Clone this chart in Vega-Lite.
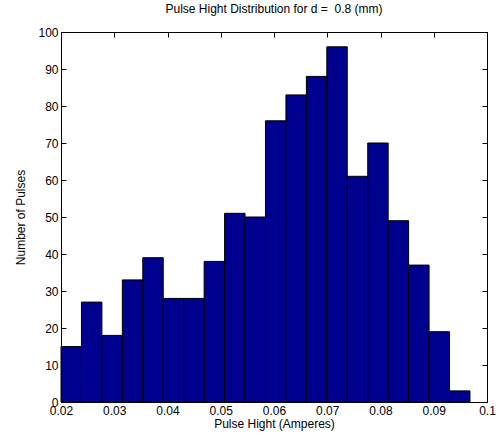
{
  "$schema": "https://vega.github.io/schema/vega-lite/v6.json",
  "width": 426,
  "height": 370,
  "autosize": {"type": "none"},
  "padding": {"left": 61, "top": 32, "right": 11, "bottom": 42},
  "background": "white",
  "title": {"text": "Pulse Hight Distribution for d = \u00a00.8 (mm)", "font": "Liberation Sans", "fontSize": 12, "fontWeight": "normal", "color": "black", "offset": 10},
  "config": {
    "view": {"stroke": "black", "strokeWidth": 1},
    "axis": {"labelFont": "Liberation Sans", "labelFontSize": 12, "labelColor": "black", "titleFont": "Liberation Sans", "titleFontSize": 12, "titleFontWeight": "normal", "titleColor": "black", "domainColor": "black", "tickColor": "black", "grid": false, "tickSize": -5}
  },
  "data": {"values": [
    {"start": 0.02, "end": 0.02384, "count": 15},
    {"start": 0.02384, "end": 0.02768, "count": 27},
    {"start": 0.02768, "end": 0.03152, "count": 18},
    {"start": 0.03152, "end": 0.03536, "count": 33},
    {"start": 0.03536, "end": 0.0392, "count": 39},
    {"start": 0.0392, "end": 0.04304, "count": 28},
    {"start": 0.04304, "end": 0.04688, "count": 28},
    {"start": 0.04688, "end": 0.05072, "count": 38},
    {"start": 0.05072, "end": 0.05456, "count": 51},
    {"start": 0.05456, "end": 0.0584, "count": 50},
    {"start": 0.0584, "end": 0.06224, "count": 76},
    {"start": 0.06224, "end": 0.06608, "count": 83},
    {"start": 0.06608, "end": 0.06992, "count": 88},
    {"start": 0.06992, "end": 0.07376, "count": 96},
    {"start": 0.07376, "end": 0.0776, "count": 61},
    {"start": 0.0776, "end": 0.08144, "count": 70},
    {"start": 0.08144, "end": 0.08528, "count": 49},
    {"start": 0.08528, "end": 0.08912, "count": 37},
    {"start": 0.08912, "end": 0.09296, "count": 19},
    {"start": 0.09296, "end": 0.0968, "count": 3}
  ]},
  "resolve": {"axis": {"x": "independent", "y": "independent"}},
  "layer": [
    {
      "mark": {"type": "bar", "fill": "#00008f", "stroke": "black", "strokeWidth": 1},
      "encoding": {
        "x": {"field": "start", "type": "quantitative", "scale": {"domain": [0.02, 0.1], "nice": false, "zero": false},
              "axis": {"orient": "bottom", "values": [0.02, 0.03, 0.04, 0.05, 0.06, 0.07, 0.08, 0.09, 0.1], "format": ".2~f", "title": "Pulse Hight (Amperes)", "labelPadding": 8, "titlePadding": 2, "labelFlush": false}},
        "x2": {"field": "end"},
        "y": {"field": "count", "type": "quantitative", "scale": {"domain": [0, 100], "nice": false},
              "axis": {"orient": "left", "values": [0, 10, 20, 30, 40, 50, 60, 70, 80, 90, 100], "title": "Number of Pulses", "labelPadding": 8, "titlePadding": 10}},
        "y2": {"datum": 0}
      }
    },
    {
      "mark": {"type": "bar", "opacity": 0},
      "encoding": {
        "x": {"field": "start", "type": "quantitative", "scale": {"domain": [0.02, 0.1], "nice": false, "zero": false},
              "axis": {"orient": "top", "values": [0.02, 0.03, 0.04, 0.05, 0.06, 0.07, 0.08, 0.09, 0.1], "labels": false, "title": null}},
        "x2": {"field": "end"},
        "y": {"field": "count", "type": "quantitative", "scale": {"domain": [0, 100], "nice": false},
              "axis": {"orient": "right", "values": [0, 10, 20, 30, 40, 50, 60, 70, 80, 90, 100], "labels": false, "title": null}},
        "y2": {"datum": 0}
      }
    }
  ]
}
